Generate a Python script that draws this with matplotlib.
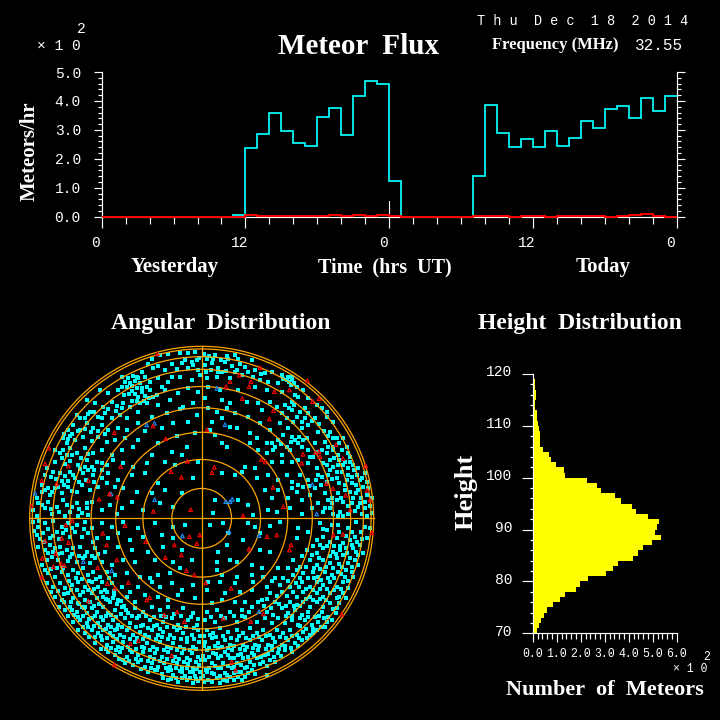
import numpy as np
import matplotlib
matplotlib.use("Agg")
import matplotlib.pyplot as plt
from matplotlib.patches import Circle
from matplotlib.transforms import ScaledTranslation

hours = list(range(48))
flux_cyan = [0,0,0,0,0,0,0,0,0,0,0,0.07,2.36,2.85,3.6,2.95,2.53,2.46,3.43,3.74,2.81,4.16,4.68,4.57,
             1.25,0,0,0,0,0,0,1.39,3.85,2.88,2.4,2.67,2.4,2.95,2.43,2.71,3.3,3.05,3.71,3.81,3.4,4.09,3.64,4.16]
flux_red = [0,0,0,0,0,0,0,0,0,0,0,0,0.07,0.03,0.03,0.03,0.03,0.03,0.03,0.07,0.03,0.07,0.03,0.07,
            0.03,0,0,0,0,0,0,0.03,0.03,0.03,0,0.03,0.03,0,0.03,0.03,0.03,0.03,0,0.03,0.07,0.11,0.03,0]
height_bins = list(range(70, 120))
height_counts = [0.18,0.26,0.33,0.47,0.6,0.85,1.14,1.35,1.8,1.97,2.3,3.05,3.36,3.57,4.18,4.39,4.6,4.97,5.35,5.1,
                 5.17,5.26,4.8,4.3,4.14,3.68,3.43,2.85,2.68,2.26,1.35,1.3,0.97,0.76,0.68,0.43,0.3,0.3,0.29,0.25,
                 0.22,0.18,0.17,0.08,0.08,0.14,0.14,0.11,0.08,0.04]
zenith_rings = [10,20,30,40,50,60,70,80,90]
flux_ticks = [0,12,24,36,48]
flux_tick_labels = ["0","12","0","12","0"]
rate_ticks = [0,1,2,3,4,5]
rate_tick_labels = ["0.0","1.0","2.0","3.0","4.0","5.0"]
height_ticks = [70,80,90,100,110,120]
count_ticks = [0,1,2,3,4,5,6]
count_tick_labels = ["0.0","1.0","2.0","3.0","4.0","5.0","6.0"]

# East / north offsets estimated by eye from the sky map; radius of the horizon circle = 516.
# NOTE: the cyan lists are a thinned, approximate hand reading. The reference holds several
# thousand cyan points; far fewer are listed here and their positions are not exact, so the
# map shows the overall density pattern, not the individual meteors. Red and blue marks are
# read one by one but are also approximate.
red_points = [(-133,493),(-458,210),(-470,163),(-400,157),(-480,113),(-435,103),(-340,113),(-243,155),(-262,257),(-146,277),
 (-108,239),(-43,171),(-92,140),(-61,123),(-145,21),(-33,26),(-253,63),(-277,73),(-308,57),(-512,37),
 (175,452),(113,429),(148,410),(73,395),(142,395),(85,410),(218,380),(263,385),(122,359),(317,413),(332,350),(352,359),
 (215,323),(203,298),(16,266),(403,221),(352,200),(355,185),(304,192),(342,197),(179,176),(190,169),(300,165),(424,179),
 (492,157),(38,153),(31,137),(214,93),(374,104),(394,89),(496,84),(432,69),(505,55),(446,25),(245,35),(124,8),
 (-408,-20),(-388,-8),(-470,-68),(-420,-60),(-400,-73),(-438,-106),(-478,-120),(-422,-136),(-412,-142),(-445,-145),(-480,-177),
 (-312,-148),(-283,-196),(-260,-210),(-340,-248),(-220,-193),(-255,-125),(-297,-45),(-230,-22),(-168,-70),(-285,-80),(-165,-245),
 (-156,-238),(-109,-118),(-82,-80),(-37,-55),(-15,-76),(-6,-50),(-61,-110),(-46,-157),(-22,-170),(-74,-281),(-112,-290),(-52,-310),
 (-190,-367),(-214,-376),(-90,-412),(-262,-440),
 (196,-55),(225,-50),(268,-80),(142,-92),(263,-95),(12,-194),(88,-210),(65,-300),(185,-287),(147,-310),(90,-431),(102,-456),
 (395,-50),(424,-48),(511,-43),(420,-288)]
blue_points = [(-142,285),(-165,280),(-141,56),(-500,75),(-272,73),(46,390),(70,281),(332,101),(345,13),(72,50),(92,57),(85,50),
 (-58,-53),(-270,-157),(-355,-130),(172,-280),(82,-40),(172,-52)]

cyan_nw = [(-150,478),(-125,490),(-100,492),(-65,495),(-40,497),(-20,498),(-8,480),(-160,462),(-145,450),(-130,458),(-110,445),
 (-90,462),(-75,448),(-60,465),(-40,450),(-25,460),(-10,445),(-180,440),(-195,425),(-240,425),(-230,410),(-222,420),(-215,405),
 (-205,428),(-200,412),(-190,420),(-185,405),(-170,425),(-155,410),(-130,420),(-100,410),(-65,425),(-30,415),(-5,430),
 (-305,385),(-280,375),(-250,385),(-232,370),(-210,382),(-200,372),(-190,365),(-178,380),(-170,368),(-155,385),(-135,370),(-110,385),
 (-70,375),(-40,390),(-10,378),(-345,355),(-320,345),(-295,335),(-270,350),(-255,338),(-235,345),(-215,335),(-195,352),(-165,345),
 (-130,340),(-95,355),(-55,335),(-25,345),(-375,310),(-350,300),(-335,320),(-310,305),(-290,315),(-270,300),(-245,310),(-225,300),
 (-190,320),(-150,305),(-105,315),(-65,328),(-15,310),(-400,265),(-385,280),(-365,265),(-345,285),(-325,270),(-300,280),(-280,265),
 (-250,272),(-225,265),(-190,285),(-170,262),(-120,270),(-85,285),(-40,290),(-415,240),(-405,225),(-395,248),(-380,235),(-355,245),
 (-330,232),(-310,245),(-285,228),(-260,235),(-230,240),(-190,235),(-130,225),(-75,248),(-20,255),(-440,205),(-415,205),(-405,190),
 (-395,212),(-375,195),(-350,210),(-325,195),(-300,205),(-270,190),(-240,205),(-205,215),(-150,190),(-90,200),(-45,215),
 (-465,150),(-440,170),(-420,180),(-395,172),(-370,160),(-345,175),(-330,155),(-315,170),(-300,145),(-285,160),(-265,175),(-235,165),
 (-205,155),(-165,165),(-110,170),(-60,190),(-12,170),(-480,100),(-445,140),(-425,135),(-410,128),(-395,140),(-380,120),(-355,135),
 (-340,145),(-325,130),(-300,120),(-280,135),(-250,115),(-210,130),(-170,135),(-130,105),(-80,160),(-25,120),(-495,60),(-470,85),
 (-455,70),(-440,90),(-420,75),(-400,95),(-375,80),(-360,100),(-335,85),(-310,95),(-285,105),(-260,95),(-235,90),(-195,80),(-150,75),
 (-110,85),(-60,75),(-505,25),(-480,40),(-460,50),(-435,35),(-415,55),(-395,20),(-375,45),(-360,15),(-345,30),(-330,50),(-300,25),
 (-275,40),(-240,30),(-210,50),(-175,25),(-125,45),(-85,35),(-495,8),(-450,12),(-410,8),(-370,6),(-340,10),(-255,12)]

cyan_ne = [(8,492),(22,488),(40,490),(75,488),(100,490),(10,460),(30,465),(50,452),(70,468),(90,458),(115,462),(150,475),(60,440),
 (105,445),(130,455),(160,445),(190,435),(210,440),(240,430),(260,425),(270,415),(278,405),(262,410),(15,420),(45,425),(85,420),(100,440),
 (155,425),(175,415),(200,410),(230,405),(285,395),(305,385),(20,395),(55,385),(110,385),(160,395),(195,385),(240,380),(280,370),(320,360),
 (345,340),(10,360),(60,355),(85,345),(135,350),(170,345),(205,350),(225,335),(250,340),(270,350),(290,365),(310,330),(360,330),(375,320),
 (20,330),(45,320),(75,330),(100,315),(140,305),(180,325),(240,315),(255,300),(270,325),(285,305),(300,290),(320,315),(340,300),(375,305),
 (395,290),(30,290),(60,300),(85,275),(105,270),(145,255),(175,285),(205,265),(235,285),(260,270),(275,290),(300,270),(320,280),(350,260),
 (385,260),(405,240),(25,265),(40,250),(145,225),(165,240),(195,225),(230,235),(245,250),(270,245),(290,225),(315,240),(340,225),(370,230),
 (395,215),(425,240),(435,215),(60,225),(75,215),(170,205),(195,195),(215,205),(240,190),(265,205),(300,215),(320,205),(335,185),(375,195),
 (410,190),(430,170),(445,185),(455,160),(465,130),(130,155),(160,150),(210,170),(240,170),(270,170),(290,175),(320,165),(345,150),(365,165),
 (385,175),(395,155),(410,160),(420,140),(440,130),(475,115),(490,135),(485,95),(60,135),(100,130),(120,140),(165,120),(200,130),(230,115),
 (255,130),(270,110),(295,130),(320,115),(350,130),(380,130),(405,120),(430,100),(450,105),(470,85),(495,70),(510,60),(40,55),(110,55),(140,40),
 (190,85),(210,60),(230,85),(260,60),(285,80),(300,55),(325,70),(350,45),(370,75),(390,60),(410,75),(425,50),(455,60),(475,45),(490,30),(510,15),
 (35,15),(155,10),(200,25),(225,20),(265,30),(300,12),(330,30),(365,18),(385,30),(415,20),(440,12),(460,22)]

cyan_sw = [(-505,-10),(-490,-25),(-470,-15),(-445,-8),(-420,-25),(-400,-15),(-375,-20),(-350,-10),(-330,-28),(-300,-15),(-270,-25),(-235,-10),
 (-190,-30),(-140,-15),(-85,-25),(-50,-20),(-495,-50),(-475,-45),(-455,-60),(-435,-40),(-415,-45),(-395,-55),(-380,-40),(-360,-55),(-340,-45),
 (-315,-60),(-280,-60),(-250,-45),(-215,-65),(-175,-55),(-120,-50),(-85,-60),(-490,-85),(-470,-95),(-455,-80),(-440,-90),(-425,-85),(-405,-95),
 (-385,-90),(-365,-85),(-345,-100),(-320,-90),(-290,-100),(-250,-85),(-210,-95),(-160,-100),(-115,-85),(-60,-95),(-480,-140),(-465,-125),(-450,-115),
 (-430,-125),(-395,-115),(-375,-130),(-355,-120),(-335,-135),(-320,-120),(-300,-130),(-270,-140),(-235,-125),(-200,-130),(-140,-125),(-85,-130),
 (-30,-125),(-460,-165),(-440,-175),(-420,-160),(-400,-170),(-385,-155),(-370,-165),(-355,-150),(-340,-170),(-325,-160),(-305,-175),(-285,-160),
 (-260,-170),(-225,-165),(-185,-175),(-155,-180),(-130,-170),(-95,-165),(-65,-150),(-465,-195),(-445,-205),(-425,-195),(-410,-210),(-390,-200),
 (-370,-190),(-350,-205),(-330,-190),(-310,-205),(-290,-215),(-270,-195),(-240,-205),(-215,-220),(-190,-205),(-150,-190),(-125,-205),(-90,-195),
 (-60,-215),(-25,-200),(-440,-235),(-420,-245),(-400,-225),(-385,-240),(-365,-230),(-350,-245),(-330,-225),(-315,-240),(-295,-235),(-280,-245),
 (-265,-238),(-250,-245),(-225,-235),(-200,-250),(-170,-230),(-130,-235),(-100,-245),(-70,-230),(-20,-240),(-410,-275),(-395,-265),(-375,-280),
 (-360,-265),(-345,-285),(-330,-270),(-315,-280),(-295,-265),(-280,-285),(-260,-275),(-240,-265),(-220,-285),(-200,-270),(-175,-280),(-150,-265),
 (-125,-275),(-100,-265),(-55,-270),(-25,-285),(-385,-310),(-365,-305),(-345,-315),(-330,-300),(-310,-315),(-295,-305),(-280,-320),(-265,-305),
 (-250,-320),(-230,-300),(-215,-315),(-195,-300),(-175,-320),(-155,-305),(-135,-320),(-115,-310),(-90,-300),(-70,-320),(-40,-305),(-15,-320),
 (-370,-335),(-350,-345),(-330,-335),(-310,-345),(-295,-335),(-275,-345),(-260,-335),(-245,-350),(-225,-335),(-205,-350),(-185,-340),(-170,-350),
 (-150,-335),(-130,-350),(-115,-340),(-95,-350),(-75,-335),(-55,-345),(-30,-350),(-10,-335),(-320,-375),(-300,-365),(-285,-380),(-265,-370),
 (-250,-385),(-235,-370),(-220,-385),(-200,-370),(-180,-385),(-165,-375),(-145,-385),(-125,-370),(-105,-385),(-85,-375),(-65,-385),(-45,-370),
 (-25,-385),(-8,-372),(-280,-400),(-260,-410),(-245,-400),(-225,-415),(-210,-400),(-190,-410),(-175,-400),(-155,-415),(-140,-405),(-120,-415),
 (-100,-400),(-80,-415),(-60,-405),(-45,-420),(-28,-405),(-12,-415),(-230,-435),(-205,-440),(-190,-430),(-170,-445),(-150,-435),(-130,-445),
 (-112,-435),(-95,-445),(-75,-435),(-60,-450),(-42,-438),(-25,-450),(-8,-440),(-160,-462),(-140,-455),(-120,-468),(-100,-458),(-85,-470),
 (-65,-458),(-50,-472),(-35,-462),(-20,-472),(-5,-460),(-100,-485),(-70,-490),(-45,-485),(-25,-495),(-10,-488)]

cyan_se = [(25,-20),(65,-15),(140,-15),(160,-25),(205,-22),(235,-10),(290,-30),(320,-40),(355,-15),(375,-35),(410,-20),(440,-30),(462,-12),(490,-25),
 (80,-45),(175,-45),(285,-60),(345,-65),(365,-55),(385,-70),(405,-60),(425,-75),(445,-65),(460,-55),(475,-80),(125,-65),(75,-80),(50,-100),
 (205,-100),(175,-95),(315,-95),(345,-105),(365,-90),(395,-100),(415,-95),(435,-105),(455,-90),(470,-110),(45,-130),(85,-125),(105,-130),
 (180,-150),(150,-140),(230,-150),(275,-125),(295,-145),(325,-125),(345,-140),(365,-125),(385,-135),(405,-120),(420,-145),(440,-135),(460,-125),
 (45,-155),(60,-170),(105,-175),(150,-170),(185,-175),(220,-180),(275,-170),(305,-165),(335,-160),(350,-175),(370,-160),(390,-170),(410,-160),
 (430,-175),(450,-160),(20,-190),(55,-190),(100,-195),(155,-190),(195,-205),(235,-200),(265,-205),(300,-190),(325,-205),(345,-190),(365,-200),
 (385,-190),(405,-205),(425,-190),(440,-210),(15,-215),(70,-225),(115,-220),(150,-215),(205,-225),(240,-220),(285,-235),(305,-220),(325,-235),
 (345,-225),(365,-235),(385,-225),(405,-240),(425,-225),(30,-255),(60,-245),(100,-250),(130,-250),(180,-245),(220,-250),(265,-250),(285,-260),
 (305,-250),(325,-265),(345,-250),(365,-265),(385,-255),(405,-270),(15,-280),(45,-275),(85,-280),(120,-275),(150,-265),(195,-280),(215,-290),
 (240,-270),(260,-285),(280,-275),(300,-290),(320,-280),(340,-295),(360,-280),(380,-295),(10,-305),(40,-310),(70,-300),(105,-310),(130,-295),
 (165,-310),(190,-300),(210,-315),(230,-300),(250,-315),(270,-305),(290,-320),(310,-305),(330,-320),(350,-310),(370,-325),(15,-335),(35,-345),
 (55,-330),(80,-340),(105,-335),(125,-345),(145,-330),(165,-345),(185,-335),(205,-350),(225,-335),(245,-345),(265,-335),(285,-350),(305,-340),
 (325,-350),(345,-335),(10,-370),(30,-360),(50,-375),(70,-365),(85,-380),(105,-365),(125,-380),(145,-365),(160,-380),(180,-365),(200,-380),
 (220,-370),(240,-380),(260,-365),(280,-375),(300,-365),(15,-395),(35,-405),(50,-390),(70,-400),(90,-395),(110,-410),(130,-395),(150,-405),
 (170,-395),(190,-410),(210,-395),(230,-405),(250,-395),(270,-400),(10,-425),(30,-435),(50,-420),(65,-435),(85,-420),(105,-435),(125,-420),
 (145,-430),(165,-420),(185,-430),(205,-425),(220,-430),(12,-455),(30,-465),(50,-450),(70,-465),(90,-450),(110,-460),(130,-450),(150,-455),
 (20,-485),(45,-478),(65,-485),(85,-475),(110,-475),(130,-475),(195,-470)]

# denser clumps seen in the sky map, second pass by eye
cyan_clumps_south = [(-287,-241),(-276,-252),(-263,-229),(-254,-258),(-241,-247),(-233,-262),(-308,-256),(-322,-262),(-336,-252),(-352,-268),(-368,-257),
 (-382,-291),(-371,-296),(-357,-292),(-339,-302),(-321,-292),(-303,-296),(-288,-293),(-271,-291),(-256,-296),(-243,-288),(-227,-274),(-209,-292),(-187,-294),
 (-166,-292),(-143,-296),(-121,-292),(-107,-296),(-82,-288),(-61,-292),(-33,-296),(-12,-303),(-357,-327),(-341,-326),(-322,-322),(-304,-326),(-287,-331),
 (-272,-327),(-253,-333),(-238,-326),(-218,-328),(-197,-326),(-183,-322),(-162,-328),(-143,-322),(-125,-331),(-104,-326),(-84,-327),(-64,-330),(-47,-326),
 (-23,-330),(-338,-357),(-319,-355),(-303,-352),(-284,-359),(-266,-354),(-253,-362),(-234,-356),(-214,-362),(-195,-358),(-176,-362),(-157,-357),(-137,-362),
 (-118,-355),(-102,-362),(-83,-358),(-63,-362),(-43,-358),(-22,-362),(-5,-352),(-303,-391),(-287,-392),(-272,-388),(-257,-395),(-238,-390),(-216,-395),(-197,-392),
 (-173,-390),(-156,-396),(-133,-392),(-114,-396),(-93,-390),(-74,-396),(-53,-393),(-36,-396),(-18,-393),(-247,-421),(-236,-426),(-217,-428),(-198,-421),
 (-181,-424),(-162,-428),(-142,-422),(-124,-428),(-103,-423),(-87,-428),(-68,-423),(-53,-430),(-34,-425),(-18,-430),(-3,-424),(-182,-452),(-152,-449),(-133,-456),
 (-108,-449),(-92,-456),(-76,-450),(-58,-462),(-43,-450),(-27,-461),(-13,-452),(-115,-478),(-92,-482),(-78,-480),(-58,-480),(-36,-478),(-18,-482),(-3,-478),
 (6,-352),(24,-351),(42,-356),(63,-352),(88,-358),(113,-352),(132,-358),(153,-352),(172,-357),(192,-352),(213,-358),(236,-355),(254,-358),(272,-352),(293,-358),
 (315,-358),(335,-345),(6,-382),(22,-388),(41,-382),(61,-385),(78,-390),(96,-382),(116,-392),(136,-385),(153,-390),(172,-382),(192,-392),(212,-382),(232,-392),(250,-382),
 (268,-388),(289,-382),(4,-412),(23,-415),(43,-408),(58,-414),(78,-410),(98,-418),(118,-408),(138,-415),(158,-409),(178,-415),(198,-408),(218,-415),(238,-412),
 (22,-448),(40,-442),(57,-448),(78,-442),(97,-446),(117,-440),(136,-445),(156,-440),(175,-438),(195,-442),(4,-472),(16,-462),(38,-468),(56,-472),(76,-470),(96,-465),
 (118,-462),(140,-465),(160,-468),(6,-492),(32,-492),(54,-494),(76,-488),(98,-486),(120,-484),
 (296,-322),(312,-333),(334,-333),(358,-326),(376,-312),(392,-304),(402,-283),(393,-272),(412,-255),(374,-246),(355,-243),(334,-245),(314,-243),(296,-262),(276,-262),
 (252,-262),(231,-258),(208,-268),(187,-262),(168,-252),(143,-282),(122,-292),(97,-292),(58,-292),(28,-296),(254,-292),(272,-292),(295,-300),(318,-296),(352,-293),
 (366,-298),(412,-235),(434,-240),(418,-212),(396,-215),(376,-212),(355,-212),(334,-215),(312,-212),(292,-205),(274,-222),(255,-232),(226,-232),(196,-242),
 (398,-178),(418,-168),(438,-188),(455,-175),(378,-178),(358,-186),(338,-178),(318,-180),(296,-178),(284,-195),(258,-188),(245,-178),(212,-188),
 (470,-140),(452,-146),(432,-155),(412,-138),(395,-148),(374,-145),(356,-152),(336,-148),(312,-146),(286,-155),(258,-148),(485,-105),(462,-102),(444,-118),(424,-110),(404,-108),
 (385,-112),(352,-118),(330,-110),(302,-112),(495,-60),(480,-62),(466,-72),(452,-80),(434,-88),(414,-82),(396,-82),(375,-82),(355,-80),(334,-82),(505,-30),(478,-40),(452,-42),(432,-52),(412,-40),(392,-20),(365,-32)]

cyan_clumps_west = [(-503,-38),(-486,-62),(-472,-72),(-462,-105),(-446,-102),(-432,-108),(-418,-104),(-402,-128),(-388,-108),(-368,-112),(-350,-112),(-330,-112),(-310,-108),
 (-470,-155),(-452,-152),(-435,-150),(-415,-150),(-398,-188),(-378,-178),(-358,-182),(-338,-188),(-318,-182),(-298,-192),(-278,-178),
 (-452,-222),(-432,-218),(-412,-228),(-392,-216),(-374,-215),(-356,-222),(-340,-214),(-322,-212),(-302,-222),(-284,-222),(-262,-218),
 (-428,-265),(-412,-252),(-392,-252),(-372,-254),(-402,-292),(-388,-275),(-350,-265),
 (-488,-8),(-462,-32),(-446,-52),(-428,-62),(-408,-35),(-388,-28),(-354,-33),(-325,-70),
 (-490,45),(-470,30),(-452,28),(-428,20),(-405,40),(-388,35),(-368,28),(-345,45),(-480,78),(-462,92),(-448,78),(-430,95),(-412,100),(-390,82),(-368,110),(-348,115),(-322,108),
 (-470,130),(-452,125),(-438,118),(-418,112),(-402,112),(-385,130),(-365,148),(-350,155),(-322,145),(-300,165),(-425,195),(-410,162),(-388,190),(-362,180),(-340,192),
 (-412,252),(-402,238),(-388,252),(-372,262),(-350,268),(-332,258),(-310,262),(-290,252),(-365,300),(-342,312),(-322,318),(-300,302),(-280,328),(-258,322),(-240,330),
 (-240,395),(-225,395),(-208,398),(-195,392),(-180,392),(-165,395),(-218,372),(-208,352),(-185,345),(-172,352),(-158,362),(-145,365),(-120,395),(-90,425),(-50,475),(-30,470),(-15,475)]

cyan_clumps_east = [(15,478),(35,478),(58,475),(80,478),(110,478),(12,440),(28,445),(48,438),(72,442),(120,430),(140,438),(178,432),(268,400),(272,425),(255,415),(245,418),
 (250,340),(262,332),(278,340),(296,318),(310,300),(330,292),(352,282),(368,262),(378,248),(395,240),(412,225),(420,205),(438,195),(445,170),(458,145),(470,150),(482,120),(495,110),
 (500,90),(505,38),(490,48),(478,62),(462,75),(445,78),(430,85),(418,60),(405,55),(392,45),(380,55),(370,30),(395,12),(410,8),(425,8),(440,38),(450,45),(468,35),(480,12),(495,8),
 (440,150),(425,160),(412,175),(398,180),(405,140),(390,118),(375,110),(358,100),(340,92),(322,98),(305,95),(288,100),(270,90),(395,205),(378,215),(362,205),(345,200),(325,185),
 (305,235),(292,245),(280,235),(268,228),(255,215),(238,222),(220,215),(210,225),(375,160),(385,145),(360,125),(342,115),(412,105),(435,115),(452,125),(462,100)]

plt.rcParams["font.family"] = ["Liberation Mono", "DejaVu Sans"]
WHITE = "#FFFFFF"; ORANGE = "#FFA500"
SERIF = "Liberation Serif"; MONO = "Liberation Mono"
W = 720.0


def axes_px(fig, left, top, right, bottom):
    return fig.add_axes([left / W, 1 - bottom / W, (right - left) / W, (bottom - top) / W])


def ftext(fig, x, y, s, size, family=SERIF, weight="bold", ha="center", rot=0):
    fig.text(x / W, 1 - y / W, s, fontsize=size, family=family, weight=weight, color=WHITE,
             ha=ha, va="center", rotation=rot)


fig = plt.figure(figsize=(7.2, 7.2), dpi=100, facecolor="black")

# ---------- flux
ax = axes_px(fig, 101.7, 72, 676.7, 216.7)
ax.set_facecolor("black")
edges = hours + [48]
ax.stairs(flux_cyan, edges, color="#00FFFF", lw=1.25, baseline=None, zorder=3)
ax.stairs(flux_red, edges, color="#FF0000", lw=1.4, baseline=None, zorder=5, clip_on=False)
ax.plot([24, 24], [0, 0.54], color=WHITE, lw=0.8, zorder=2)
ax.set_xlim(0, 48); ax.set_ylim(0, 5)
ax.spines["top"].set_visible(False)
for s in ["left", "right", "bottom"]:
    ax.spines[s].set_color(WHITE); ax.spines[s].set_linewidth(0.85)
ax.set_xticks(flux_ticks, flux_tick_labels, family=MONO, fontsize=10.5, color=WHITE)
ax.set_xticks(range(0, 49, 2), minor=True)
ax.set_yticks(rate_ticks, rate_tick_labels, family=MONO, fontsize=10.5, color=WHITE)
ax.set_yticks(np.arange(0, 5.01, 0.2), minor=True)
ax.tick_params(axis="x", which="major", length=8, width=0.85, color=WHITE, pad=6)
ax.tick_params(axis="x", which="minor", length=5, width=0.85, color=WHITE)
ax.tick_params(axis="y", which="major", length=6, width=0.85, color=WHITE, pad=9, right=True)
ax.tick_params(axis="y", which="minor", length=3.2, width=0.85, color=WHITE, right=True)
shift = ScaledTranslation(-6 / 100, 0, fig.dpi_scale_trans)
for lab in ax.get_xticklabels():
    lab.set_transform(lab.get_transform() + shift)

# ---------- sky map
sky = axes_px(fig, 29.7, 346.3, 373.7, 690.3)
sky.set_xlim(-516, 516); sky.set_ylim(-516, 516)
sky.axis("off")
all_cyan = cyan_nw + cyan_ne + cyan_sw + cyan_se + cyan_clumps_south + cyan_clumps_west + cyan_clumps_east
sky.scatter(*zip(*all_cyan), s=6.0, marker="s", color="#00FFFF", linewidths=0, zorder=2, clip_on=False)
for z in zenith_rings:
    sky.add_patch(Circle((0, 0), 516 * np.sin(np.radians(z)), fill=False, ec=ORANGE, lw=0.9, zorder=3, clip_on=False))
sky.plot([-516, 516], [0, 0], color=ORANGE, lw=0.9, zorder=3, clip_on=False)
sky.plot([0, 0], [-516, 516], color=ORANGE, lw=0.9, zorder=3, clip_on=False)
sky.scatter(*zip(*blue_points), s=7, marker="^", facecolors="none", edgecolors="#1E90FF", linewidths=0.8, zorder=4)
sky.scatter(*zip(*red_points), s=7, marker="^", facecolors="none", edgecolors="#FF0000", linewidths=0.8, zorder=5)

# ---------- height histogram
hx = axes_px(fig, 532.7, 374, 676.7, 633.3)
hx.set_facecolor("black")
hx.barh(height_bins, height_counts, height=1.0, align="edge", color="#FFFF00", linewidth=0)
hx.set_xlim(0, 6); hx.set_ylim(70, 120)
for s in ["top", "right"]:
    hx.spines[s].set_visible(False)
for s in ["left", "bottom"]:
    hx.spines[s].set_color(WHITE); hx.spines[s].set_linewidth(0.85)
hx.set_xticks(count_ticks, count_tick_labels, family=MONO, fontsize=8.3, color=WHITE)
hx.set_xticks(np.arange(0, 6.01, 0.2), minor=True)
hx.set_yticks(height_ticks, [str(h) for h in height_ticks], family=MONO, fontsize=10.5, color=WHITE)
hx.set_yticks(range(70, 121, 2), minor=True)
hx.tick_params(axis="x", which="major", length=6.5, width=0.85, color=WHITE, pad=4)
hx.tick_params(axis="x", which="minor", length=4.5, width=0.85, color=WHITE)
hx.tick_params(axis="y", which="major", length=7.7, width=0.85, color=WHITE, pad=7)
hx.tick_params(axis="y", which="minor", length=2.4, width=0.85, color=WHITE)
lift = ScaledTranslation(0, 3 / 100, fig.dpi_scale_trans)
for lab in hx.get_yticklabels():
    lab.set_transform(lab.get_transform() + lift)

# ---------- figure text
ftext(fig, 359, 47, "Meteor  Flux", 21)
ftext(fig, 582.5, 21, "T h u  D e c  1 8  2 0 1 4", 9.8, family=MONO, weight="normal")
ftext(fig, 555.5, 45, "Frequency (MHz)", 12)
ftext(fig, 659.5, 45, "32.55", 11.5, family=MONO, weight="normal")
ftext(fig, 59, 46, "\u00d7 1 0", 10.5, family=MONO, weight="normal")
ftext(fig, 81, 29, "2", 10.5, family=MONO, weight="normal")
ftext(fig, 30, 151, "Meteors/hr", 15, rot=90)
ftext(fig, 175, 267, "Yesterday", 15)
ftext(fig, 385, 267, "Time  (hrs  UT)", 14.5)
ftext(fig, 603, 267, "Today", 15)
ftext(fig, 221, 323, "Angular  Distribution", 17)
ftext(fig, 579.5, 323, "Height  Distribution", 17)
ftext(fig, 466, 492, "Height", 19, rot=90)
ftext(fig, 605, 690, "Number  of  Meteors", 16)
ftext(fig, 690, 669, "\u00d7 1 0", 8.3, family=MONO, weight="normal")
ftext(fig, 706.7, 657, "2", 8.3, family=MONO, weight="normal")

fig.savefig("out.png", dpi=100, facecolor="black")
